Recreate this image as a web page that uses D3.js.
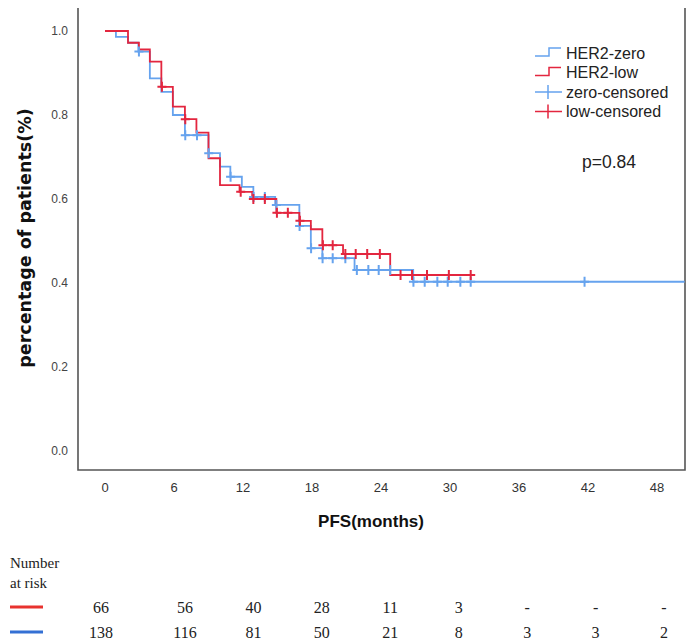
<!DOCTYPE html>
<html><head><meta charset="utf-8">
<script src="https://cdn.jsdelivr.net/npm/d3@7/dist/d3.min.js"></script>
<style>body{margin:0;background:#fff}svg{display:block}</style>
</head><body>
<svg id="c" width="688" height="643"></svg>
<script>
// ---- data ----
const xTicks = [0, 6, 12, 18, 24, 30, 36, 42, 48];
const yTicks = [0.0, 0.2, 0.4, 0.6, 0.8, 1.0];

const lowTimes = [0, 2.0, 2.95, 3.9, 4.9, 5.9, 6.95, 7.95, 9.0, 10.0, 11.7, 12.8, 14.9, 16.9, 17.9, 18.9, 20.7, 24.8];
const lowSurv  = [1.0, 0.972, 0.956, 0.927, 0.867, 0.820, 0.790, 0.758, 0.697, 0.633, 0.617, 0.600, 0.567, 0.548, 0.528, 0.490, 0.469, 0.419];
const lowEnd = 32.0;
const lowCensor = [4.95, 6.98, 11.8, 12.9, 13.9, 14.95, 15.9, 16.95, 18.95, 19.8, 20.9, 21.8, 22.8, 23.9, 25.7, 26.7, 28.0, 29.9, 31.8];

const zeroTimes = [0, 0.95, 2.0, 2.9, 3.9, 4.9, 5.9, 6.95, 9.0, 10.0, 10.9, 11.9, 12.9, 14.8, 16.9, 17.9, 18.9, 21.7, 26.8];
const zeroSurv  = [1.0, 0.986, 0.972, 0.951, 0.887, 0.855, 0.800, 0.752, 0.709, 0.677, 0.653, 0.629, 0.605, 0.586, 0.536, 0.483, 0.459, 0.431, 0.403];
const zeroEnd = 50.4;
const zeroCensor = [2.95, 6.98, 8.0, 9.02, 10.92, 12.92, 13.9, 14.9, 16.92, 17.92, 18.92, 19.8, 20.9, 21.9, 22.9, 23.8, 24.8, 26.82, 27.8, 28.9, 29.8, 30.9, 31.8, 41.7];

const legendLabels = ["HER2-zero", "HER2-low", "zero-censored", "low-censored"];
const pLabel = "p=0.84";
const xTitle = "PFS(months)";
const yTitle = "percentage of patients(%)";

const riskTimes = [0, 6, 12, 18, 24, 30, 36, 42, 48];
const riskLow  = ["66", "56", "40", "28", "11", "3", "-", "-", "-"];
const riskZero = ["138", "116", "81", "50", "21", "8", "3", "3", "2"];

// ---- styles ----
const RED = "#e3263f", BLUE = "#66a3ee";
const RED_R = "#e8322e", BLUE_R = "#3470d4";

const svg = d3.select("#c");
const x = d3.scaleLinear().domain([0, 48]).range([105, 657]);
const y = d3.scaleLinear().domain([0, 1]).range([451, 31]);
const frame = {l: 78, r: 685, t: 8, b: 470};

// frame
svg.append("path")
  .attr("d", `M${frame.l},${frame.t}V${frame.b}H${frame.r}V${frame.t}`)
  .attr("fill", "none").attr("stroke", "#555").attr("stroke-width", 1.6);

// y ticks
svg.append("g").selectAll("text").data(yTicks).join("text")
  .attr("x", 68).attr("y", d => y(d)).attr("dy", "0.35em")
  .attr("text-anchor", "end").attr("font-family", "Liberation Sans, Arial, sans-serif")
  .attr("font-size", 12).attr("fill", "#444").text(d => d.toFixed(1));

// x ticks
svg.append("g").selectAll("text").data(xTicks).join("text")
  .attr("x", d => x(d)).attr("y", 487).attr("dy", "0.35em")
  .attr("text-anchor", "middle").attr("font-family", "Liberation Sans Narrow, Liberation Sans, Arial, sans-serif")
  .attr("font-size", 13).attr("fill", "#333").text(d => d);

// axis titles
svg.append("text").attr("x", 371).attr("y", 521).attr("dy", "0.35em")
  .attr("text-anchor", "middle").attr("font-family", "Liberation Sans, Arial, sans-serif")
  .attr("font-weight", "bold").attr("font-size", 17).attr("fill", "#111").text(xTitle);
svg.append("text").attr("transform", "translate(25,238) rotate(-90)").attr("dy", "0.35em")
  .attr("text-anchor", "middle").attr("font-family", "DejaVu Sans, Verdana, sans-serif")
  .attr("font-weight", "bold").attr("font-size", 17.5).attr("fill", "#111").text(yTitle);

// KM curves
function stepPts(times, surv, end) {
  const pts = times.map((t, i) => [t, surv[i]]);
  pts.push([end, surv[surv.length - 1]]);
  return pts;
}
function survAt(times, surv, t) {
  let s = surv[0];
  for (let i = 0; i < times.length; i++) if (times[i] <= t) s = surv[i];
  return s;
}
const line = d3.line().x(d => x(d[0])).y(d => y(d[1])).curve(d3.curveStepAfter);

const series = [
  {times: zeroTimes, surv: zeroSurv, end: zeroEnd, cens: zeroCensor, color: BLUE},
  {times: lowTimes, surv: lowSurv, end: lowEnd, cens: lowCensor, color: RED}
];
series.forEach(s => {
  svg.append("path").attr("d", line(stepPts(s.times, s.surv, s.end)))
    .attr("fill", "none").attr("stroke", s.color).attr("stroke-width", 1.8);
});
series.forEach(s => {
  svg.append("g").selectAll("path").data(s.cens).join("path")
    .attr("d", t => {
      const cx = x(t), cy = y(survAt(s.times, s.surv, t));
      return `M${cx - 4.5},${cy}H${cx + 4.5}M${cx},${cy - 5}V${cy + 5}`;
    })
    .attr("stroke", s.color).attr("stroke-width", 2).attr("fill", "none");
});

// legend
const lg = svg.append("g");
const legColors = [BLUE, RED, BLUE, RED];
legendLabels.forEach((lab, i) => {
  const yy = 53 + i * 19.5;
  if (i < 2) {
    lg.append("path").attr("d", `M535,${yy + 3}H549V${yy - 5}H561`)
      .attr("fill", "none").attr("stroke", legColors[i]).attr("stroke-width", 1.5);
  } else {
    lg.append("path").attr("d", `M535,${yy}H562M548,${yy - 7}V${yy + 7}`)
      .attr("fill", "none").attr("stroke", legColors[i]).attr("stroke-width", 1.5);
  }
  lg.append("text").attr("x", 566).attr("y", yy).attr("dy", "0.35em")
    .attr("font-family", "Liberation Sans, Arial, sans-serif").attr("font-size", 16)
    .attr("fill", "#222").text(lab);
});
svg.append("text").attr("x", 609).attr("y", 162).attr("dy", "0.35em").attr("text-anchor", "middle")
  .attr("font-family", "Liberation Sans, Arial, sans-serif").attr("font-size", 17.5)
  .attr("fill", "#222").text(pLabel);

// risk table
const riskX = d3.scaleLinear().domain([6, 48]).range([185, 664]);
const rx = t => t === 0 ? 101 : riskX(t);
const serif = "Liberation Serif, Times New Roman, serif";
svg.append("text").attr("x", 10).attr("y", 568).attr("font-family", serif).attr("font-size", 15).attr("fill", "#222").text("Number");
svg.append("text").attr("x", 10).attr("y", 588).attr("font-family", serif).attr("font-size", 15).attr("fill", "#222").text("at risk");
[{vals: riskLow, c: RED_R, yy: 607}, {vals: riskZero, c: BLUE_R, yy: 632}].forEach(r => {
  svg.append("line").attr("x1", 10).attr("x2", 43).attr("y1", r.yy).attr("y2", r.yy)
    .attr("stroke", r.c).attr("stroke-width", 3);
  svg.append("g").selectAll("text").data(riskTimes).join("text")
    .attr("x", d => rx(d)).attr("y", r.yy).attr("dy", "0.35em").attr("text-anchor", "middle")
    .attr("font-family", serif).attr("font-size", 16).attr("fill", "#222")
    .text((d, i) => r.vals[i]);
});
</script>
</body></html>
